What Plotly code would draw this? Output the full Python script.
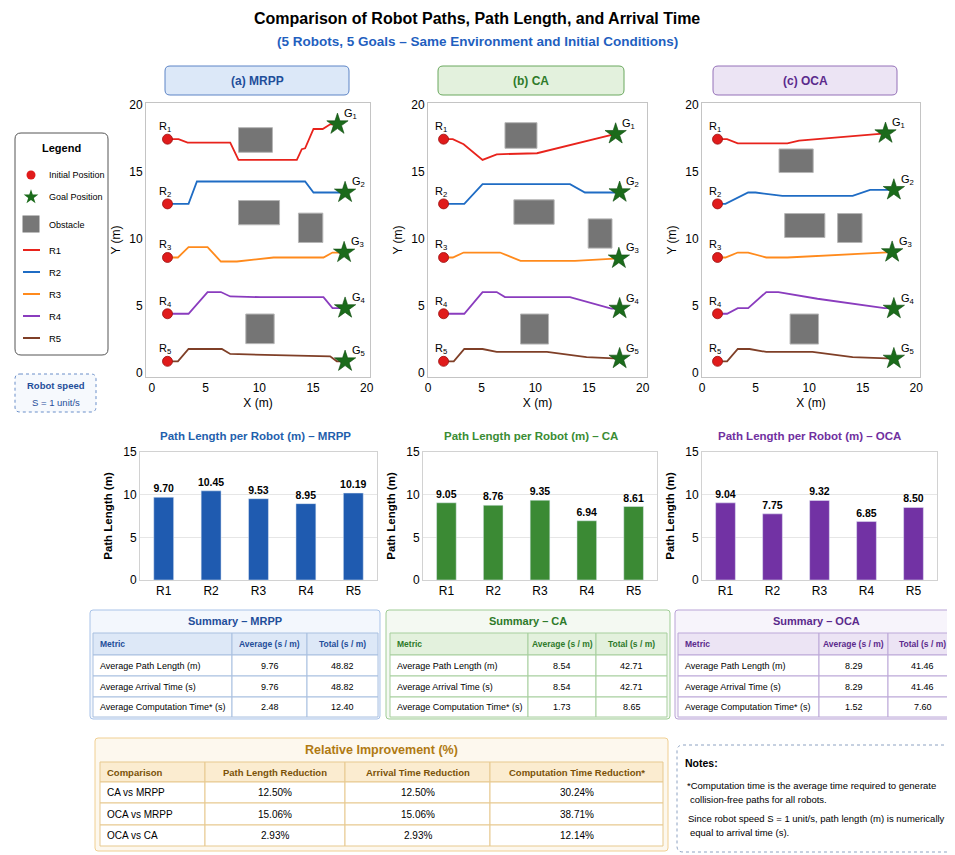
import plotly.graph_objects as go

# The page body adds an 8px margin: the figure is sized and positioned so that
# reference pixel coordinates map onto the screenshot directly.
OFF = 8
W, H = 955 - OFF, 855 - OFF
FONT = "Liberation Sans, Arial, sans-serif"

# ---------------- DATA ----------------
robots = ["R1", "R2", "R3", "R4", "R5"]
robot_colors = ["#e8231c", "#1f6cc4", "#ff8a1c", "#8a3cbe", "#7f3f27"]

start_x = [1.45, 1.45, 1.45, 1.45, 1.45]
start_y = [17.45, 12.62, 8.62, 4.42, 0.87]

mrpp_goal_x = [17.27, 17.98, 17.89, 17.98, 17.98]
mrpp_goal_y = [18.56, 13.47, 8.99, 4.84, 0.87]
ca_goal_x = [17.48, 17.85, 17.78, 17.85, 17.85]
ca_goal_y = [17.84, 13.49, 8.55, 4.80, 1.07]
oca_goal_x = [17.13, 17.91, 17.75, 17.91, 17.91]
oca_goal_y = [17.89, 13.66, 9.02, 4.80, 1.07]

mrpp_px = {
    "R1": [1.45, 2.48, 3.32, 7.29, 8.06, 13.49, 13.95, 14.26, 15.04, 15.9, 16.59, 17.27],
    "R2": [1.45, 3.41, 4.19, 14.26, 15.04, 17.98],
    "R3": [1.45, 2.42, 3.41, 5.18, 6.42, 7.91, 11.32, 15.97, 16.81, 17.89],
    "R4": [1.45, 3.41, 5.18, 6.42, 7.29, 10.08, 15.97, 16.81, 17.98],
    "R5": [1.45, 2.42, 3.41, 6.51, 7.29, 10.08, 14.42, 16.59, 17.21, 17.98],
}
mrpp_py = {
    "R1": [17.45, 17.45, 17.19, 17.19, 15.9, 15.9, 16.7, 16.77, 18.21, 18.21, 18.56, 18.56],
    "R2": [12.62, 12.62, 14.29, 14.29, 13.47, 13.47],
    "R3": [8.62, 8.62, 9.39, 9.39, 8.32, 8.32, 8.62, 8.62, 8.99, 8.99],
    "R4": [4.42, 4.42, 6.04, 6.04, 5.71, 5.66, 5.66, 4.84, 4.84],
    "R5": [0.87, 0.87, 1.79, 1.79, 1.42, 1.37, 1.24, 1.24, 0.87, 0.87],
}
ca_px = {
    "R1": [1.45, 2.31, 3.32, 5.08, 6.4, 10.15, 17.48],
    "R2": [1.45, 3.38, 5.08, 13.23, 14.62, 17.85],
    "R3": [1.45, 2.31, 3.32, 6.71, 8.62, 13.69, 17.78],
    "R4": [1.45, 3.38, 5.08, 6.4, 7.17, 13.23, 17.08, 17.85],
    "R5": [1.45, 2.4, 3.38, 5.08, 6.4, 11.08, 14.77, 17.23, 17.85],
}
ca_py = {
    "R1": [17.45, 17.45, 17.07, 15.9, 16.32, 16.4, 17.84],
    "R2": [12.62, 12.62, 14.09, 14.09, 13.47, 13.47],
    "R3": [8.62, 8.62, 8.99, 8.99, 8.37, 8.37, 8.55],
    "R4": [4.42, 4.42, 6.04, 6.04, 5.66, 5.66, 4.8, 4.8],
    "R5": [0.87, 0.87, 1.79, 1.79, 1.57, 1.57, 1.19, 1.07, 1.07],
}
oca_px = {
    "R1": [1.45, 2.34, 3.34, 7.97, 9.06, 17.13],
    "R2": [1.45, 2.19, 4.31, 5.0, 7.5, 14.06, 15.69, 17.91],
    "R3": [1.45, 2.19, 3.34, 4.31, 6.0, 7.97, 17.75],
    "R4": [1.45, 2.34, 3.34, 4.31, 6.0, 7.13, 10.78, 17.03, 17.91],
    "R5": [1.45, 2.34, 3.34, 4.44, 6.0, 10.31, 14.06, 16.88, 17.91],
}
oca_py = {
    "R1": [17.45, 17.45, 17.14, 17.14, 17.34, 17.89],
    "R2": [12.62, 12.62, 13.47, 13.47, 13.22, 13.22, 13.66, 13.66],
    "R3": [8.62, 8.62, 8.99, 8.99, 8.62, 8.62, 9.02],
    "R4": [4.42, 4.42, 4.84, 4.84, 6.04, 6.04, 5.54, 4.84, 4.84],
    "R5": [0.87, 0.87, 1.79, 1.79, 1.57, 1.57, 1.19, 1.07, 1.07],
}

# obstacles: (x0, x1, y0, y1)
mrpp_obstacles = [(8.06, 11.22, 16.47, 18.31), (8.06, 11.88, 11.06, 12.87),
                  (13.64, 15.91, 9.74, 11.93), (8.74, 11.38, 2.19, 4.40)]
ca_obstacles = [(7.17, 10.15, 16.77, 18.68), (8.0, 11.75, 11.1, 12.92),
                (14.92, 17.14, 9.32, 11.5), (8.62, 11.23, 2.16, 4.40)]
oca_obstacles = [(7.19, 10.38, 14.96, 16.72), (7.72, 11.47, 10.11, 11.9),
                 (12.66, 14.94, 9.74, 11.9), (8.22, 10.88, 2.16, 4.40)]

mrpp_len = [9.70, 10.45, 9.53, 8.95, 10.19]
ca_len = [9.05, 8.76, 9.35, 6.94, 8.61]
oca_len = [9.04, 7.75, 9.32, 6.85, 8.50]

summary_header = ["Metric", "Average (s / m)", "Total (s / m)"]
summary_metrics = ["Average Path Length (m)", "Average Arrival Time (s)", "Average Computation Time* (s)"]
mrpp_avg = ["9.76", "9.76", "2.48"]
mrpp_total = ["48.82", "48.82", "12.40"]
ca_avg = ["8.54", "8.54", "1.73"]
ca_total = ["42.71", "42.71", "8.65"]
oca_avg = ["8.29", "8.29", "1.52"]
oca_total = ["41.46", "41.46", "7.60"]

improvement_header = ["Comparison", "Path Length Reduction", "Arrival Time Reduction",
                      "Computation Time Reduction*"]
comparisons = ["CA vs MRPP", "OCA vs MRPP", "OCA vs CA"]
path_reduction = ["12.50%", "15.06%", "2.93%"]
arrival_reduction = ["12.50%", "15.06%", "2.93%"]
comp_reduction = ["30.24%", "38.71%", "12.14%"]

# ---------------- HELPERS ----------------
def X(p):
    return (p - OFF) / W


def Y(p):
    return 1 - (p - OFF) / H


shapes = []
annotations = []
fig = go.Figure()


def rrect(x0, y0, x1, y1, r, fill, line, lw=1, dash="solid", layer="below"):
    path = (f"M {X(x0+r)},{Y(y0)} L {X(x1-r)},{Y(y0)} Q {X(x1)},{Y(y0)} {X(x1)},{Y(y0+r)} "
            f"L {X(x1)},{Y(y1-r)} Q {X(x1)},{Y(y1)} {X(x1-r)},{Y(y1)} "
            f"L {X(x0+r)},{Y(y1)} Q {X(x0)},{Y(y1)} {X(x0)},{Y(y1-r)} "
            f"L {X(x0)},{Y(y0+r)} Q {X(x0)},{Y(y0)} {X(x0+r)},{Y(y0)} Z")
    shapes.append(dict(type="path", path=path, xref="paper", yref="paper",
                       fillcolor=fill, line=dict(color=line, width=lw, dash=dash), layer=layer))


def rect(x0, y0, x1, y1, fill, line, lw=1):
    shapes.append(dict(type="rect", xref="paper", yref="paper", x0=X(x0), x1=X(x1), y0=Y(y1), y1=Y(y0),
                       fillcolor=fill, line=dict(color=line, width=lw), layer="below"))


def text(x, y, t, size=11, color="black", bold=False, xanchor="center", yanchor="middle"):
    if bold:
        t = f"<b>{t}</b>"
    annotations.append(dict(x=X(x), y=Y(y), xref="paper", yref="paper", text=t, showarrow=False,
                            xanchor=xanchor, yanchor=yanchor,
                            font=dict(family=FONT, size=size, color=color)))


def draw_table(xe, ye, header, columns, aligns, hfill, gl, hcolor, hsize, csize):
    for c in range(len(header)):
        rect(xe[c], ye[0], xe[c + 1], ye[1], hfill, gl)
        for r in range(len(columns[c])):
            rect(xe[c], ye[r + 1], xe[c + 1], ye[r + 2], "white", gl)
    for c in range(len(header)):
        if aligns[c] == "left":
            xx, anc = xe[c] + 5, "left"
        else:
            xx, anc = (xe[c] + xe[c + 1]) / 2, "center"
        text(xx, (ye[0] + ye[1]) / 2, header[c], size=hsize, color=hcolor, bold=True, xanchor=anc)
        for r, v in enumerate(columns[c]):
            text(xx, (ye[r + 1] + ye[r + 2]) / 2, v, size=csize, xanchor=anc)


# ---------------- TITLES ----------------
text(477, 18, "Comparison of Robot Paths, Path Length, and Arrival Time", size=16, bold=True)
text(477, 41, "(5 Robots, 5 Goals – Same Environment and Initial Conditions)", size=13.5,
     color="#1f5fbf", bold=True)

# ---------------- PATH PLOTS ----------------
panels = [
    dict(name="(a) MRPP", px=mrpp_px, py=mrpp_py, gx=mrpp_goal_x, gy=mrpp_goal_y, obs=mrpp_obstacles,
         dom=(146, 370), rng=[-0.55, 20.3], box=(165, 349), fill="#dce8f8", line="#5c84c6", tc="#1f4e9a"),
    dict(name="(b) CA", px=ca_px, py=ca_py, gx=ca_goal_x, gy=ca_goal_y, obs=ca_obstacles,
         dom=(428, 647), rng=[0, 20.4], box=(438, 624), fill="#e3f1dd", line="#6aa85e", tc="#2e7a2a"),
    dict(name="(c) OCA", px=oca_px, py=oca_py, gx=oca_goal_x, gy=oca_goal_y, obs=oca_obstacles,
         dom=(702, 920), rng=[0, 20.35], box=(713, 897), fill="#ece4f4", line="#9470b8", tc="#5b2a8c"),
]

layout_axes = {}
for i, p in enumerate(panels):
    ax = i + 1
    xa = "x" if ax == 1 else f"x{ax}"
    ya = "y" if ax == 1 else f"y{ax}"
    for (x0, x1, y0, y1) in p["obs"]:
        shapes.append(dict(type="rect", xref=xa, yref=ya, x0=x0, x1=x1, y0=y0, y1=y1,
                           fillcolor="#757575", line=dict(color="#b5b5b5", width=1), layer="below"))
    for k, r in enumerate(robots):
        fig.add_trace(go.Scatter(x=p["px"][r], y=p["py"][r], mode="lines", xaxis=xa, yaxis=ya,
                                 line=dict(color=robot_colors[k], width=1.8), showlegend=False,
                                 hoverinfo="skip"))
    fig.add_trace(go.Scatter(x=start_x, y=start_y, mode="markers", xaxis=xa, yaxis=ya,
                             marker=dict(color="#e01b1b", size=10, line=dict(color="#9a1010", width=0.8)),
                             showlegend=False))
    fig.add_trace(go.Scatter(x=p["gx"], y=p["gy"], mode="markers", xaxis=xa, yaxis=ya,
                             marker=dict(symbol="star", color="#1b6b1b", size=16,
                                         line=dict(color="#0d4a0d", width=0.6)),
                             showlegend=False))
    for k in range(5):
        annotations.append(dict(x=start_x[k] - 0.2, y=start_y[k] + 0.9, xref=xa, yref=ya,
                                text=f"R<sub>{k+1}</sub>", showarrow=False,
                                font=dict(family=FONT, size=11, color="black")))
        annotations.append(dict(x=p["gx"][k] + 0.45, y=p["gy"][k] + 0.75, xref=xa, yref=ya,
                                text=f"G<sub>{k+1}</sub>", showarrow=False, xanchor="left",
                                font=dict(family=FONT, size=11, color="black")))
    layout_axes[f"xaxis{'' if ax == 1 else ax}"] = dict(
        domain=[X(p["dom"][0]), X(p["dom"][1])], range=p["rng"], anchor=ya, automargin=False,
        tickvals=[0, 5, 10, 15, 20], showgrid=False, zeroline=False, showline=True, mirror=True,
        linecolor="#c4c4c4", ticks="", tickfont=dict(family=FONT, size=12, color="black"),
        title=dict(text="X (m)", font=dict(family=FONT, size=12, color="black"), standoff=4))
    layout_axes[f"yaxis{'' if ax == 1 else ax}"] = dict(
        domain=[Y(377), Y(103)], range=[-0.3, 20.15], anchor=xa, automargin=False,
        tickvals=[0, 5, 10, 15, 20], showgrid=False, zeroline=False, showline=True, mirror=True,
        linecolor="#c4c4c4", ticks="", tickfont=dict(family=FONT, size=12, color="black"),
        title=dict(text="Y (m)", font=dict(family=FONT, size=12, color="black"), standoff=6))
    rrect(p["box"][0], 66, p["box"][1], 95, 5, p["fill"], p["line"])
    text((p["box"][0] + p["box"][1]) / 2, 81, p["name"], size=12, color=p["tc"], bold=True)

# ---------------- BAR CHARTS ----------------
bars = [
    dict(vals=mrpp_len, name="MRPP", color="#1f5bb0", tc="#1f5fad", dom=(140, 377), tx=255),
    dict(vals=ca_len, name="CA", color="#3b8a34", tc="#3a8c34", dom=(423, 657), tx=531),
    dict(vals=oca_len, name="OCA", color="#7232a4", tc="#7030a0", dom=(702, 937), tx=809),
]
for i, b in enumerate(bars):
    ax = i + 4
    xa, ya = f"x{ax}", f"y{ax}"
    fig.add_trace(go.Bar(x=robots, y=b["vals"], xaxis=xa, yaxis=ya, marker=dict(color=b["color"]),
                         width=0.42, texttemplate="<b>%{y:.2f}</b>", textposition="outside",
                         constraintext="none",
                         textfont=dict(family=FONT, size=10.5, color="black"), cliponaxis=False,
                         showlegend=False))
    layout_axes[f"xaxis{ax}"] = dict(domain=[X(b["dom"][0]), X(b["dom"][1])], anchor=ya, automargin=False,
                                     showline=True, mirror=True, linecolor="#d2d2d2", ticks="",
                                     tickfont=dict(family=FONT, size=12, color="black"))
    layout_axes[f"yaxis{ax}"] = dict(domain=[Y(580), Y(452)], range=[0, 15], anchor=xa, automargin=False,
                                     tickvals=[0, 5, 10, 15], showgrid=True, gridcolor="#e6e6e6",
                                     zeroline=False, showline=True, mirror=True, linecolor="#d2d2d2",
                                     ticks="", tickfont=dict(family=FONT, size=12, color="black"),
                                     title=dict(text="<b>Path Length (m)</b>",
                                                font=dict(family=FONT, size=11.5, color="black"),
                                                standoff=8))
    text(b["tx"], 436, f"Path Length per Robot (m) – {b['name']}", size=11.5, color=b["tc"], bold=True)

# ---------------- LEGEND ----------------
rrect(15, 133, 108, 355, 6, "white", "#555555", lw=1)
text(61, 148, "Legend", size=11, bold=True)
layout_axes["xaxis7"] = dict(domain=[X(15), X(108)], range=[15, 108], visible=False, anchor="y7")
layout_axes["yaxis7"] = dict(domain=[Y(355), Y(133)], range=[355, 133], visible=False, anchor="x7")
fig.add_trace(go.Scatter(x=[31], y=[175], mode="markers", xaxis="x7", yaxis="y7",
                         marker=dict(color="#e01b1b", size=9), showlegend=False))
fig.add_trace(go.Scatter(x=[31], y=[197], mode="markers", xaxis="x7", yaxis="y7",
                         marker=dict(symbol="star", color="#1b6b1b", size=11), showlegend=False))
fig.add_trace(go.Scatter(x=[31], y=[224], mode="markers", xaxis="x7", yaxis="y7",
                         marker=dict(symbol="square", color="#777777", size=17), showlegend=False))
text(47, 175, "Initial Position", size=9, xanchor="left")
text(47, 197, "Goal Position", size=9, xanchor="left")
text(47, 225, "Obstacle", size=9, xanchor="left")
for k, r in enumerate(robots):
    yy = 250 + 22 * k
    fig.add_trace(go.Scatter(x=[23, 40], y=[yy, yy], mode="lines", xaxis="x7", yaxis="y7",
                             line=dict(color=robot_colors[k], width=2), showlegend=False))
    text(47, yy, r, size=9.5, xanchor="left")

rrect(15, 374, 96, 412, 5, "#f6f9fd", "#6b8fc9", lw=1, dash="dot")
text(56, 385, "Robot speed", size=9.5, color="#1f4e9a", bold=True)
text(56, 402, "S = 1 unit/s", size=9.5, color="#1f4e9a")

# ---------------- SUMMARY TABLES ----------------
row_edges = [633, 655, 676, 697, 717]
tables = [
    dict(name="MRPP", avg=mrpp_avg, tot=mrpp_total, box=(90, 380), xe=[93, 232, 307, 378],
         fill="#f3f7fd", line="#a9c3e8", hfill="#dde8f7", tc="#1f4e9a", gl="#a9c0e0"),
    dict(name="CA", avg=ca_avg, tot=ca_total, box=(386, 670), xe=[390, 528, 596, 667],
         fill="#f4f9f2", line="#9fcc95", hfill="#e3f1dd", tc="#2e7a2a", gl="#a7cf9e"),
    dict(name="OCA", avg=oca_avg, tot=oca_total, box=(675, 958), xe=[678, 819, 888, 957],
         fill="#f7f4fb", line="#b9a3d6", hfill="#ece4f4", tc="#5b2a8c", gl="#bca8d8"),
]
for t in tables:
    rrect(t["box"][0], 610, t["box"][1], 719, 3, t["fill"], t["line"])
    text((t["box"][0] + t["box"][1]) / 2, 621, f"Summary – {t['name']}", size=11, color=t["tc"], bold=True)
    draw_table(t["xe"], row_edges, summary_header, [summary_metrics, t["avg"], t["tot"]],
               ["left", "center", "center"], t["hfill"], t["gl"], t["tc"], 8.5, 9)

# ---------------- RELATIVE IMPROVEMENT ----------------
rrect(95, 738, 668, 851, 3, "#fdf8ee", "#f0cf92")
text(381, 750, "Relative Improvement (%)", size=12.5, color="#b07a12", bold=True)
draw_table([100, 205, 345, 490, 663], [762, 782, 803, 825, 846], improvement_header,
           [comparisons, path_reduction, arrival_reduction, comp_reduction],
           ["left", "center", "center", "center"], "#fbecd0", "#e7c98f", "#7a5208", 9.5, 10)

# ---------------- NOTES ----------------
rrect(677, 745, 953, 852, 6, "white", "#8da2c2", lw=1, dash="dot")
text(683, 763, "Notes:", size=10.5, bold=True, xanchor="left")
text(685, 785, "*Computation time is the average time required to generate", size=9.5, xanchor="left")
text(688, 799, "collision-free paths for all robots.", size=9.5, xanchor="left")
text(686, 818, "Since robot speed S = 1 unit/s, path length (m) is numerically", size=9.5, xanchor="left")
text(688, 832, "equal to arrival time (s).", size=9.5, xanchor="left")

fig.update_layout(width=W, height=H, margin=dict(l=0, r=0, t=0, b=0, pad=0, autoexpand=False),
                  paper_bgcolor="white", plot_bgcolor="white", shapes=shapes, annotations=annotations,
                  font=dict(family=FONT), showlegend=False, bargap=0.5, **layout_axes)
fig.write_html("out.html")
